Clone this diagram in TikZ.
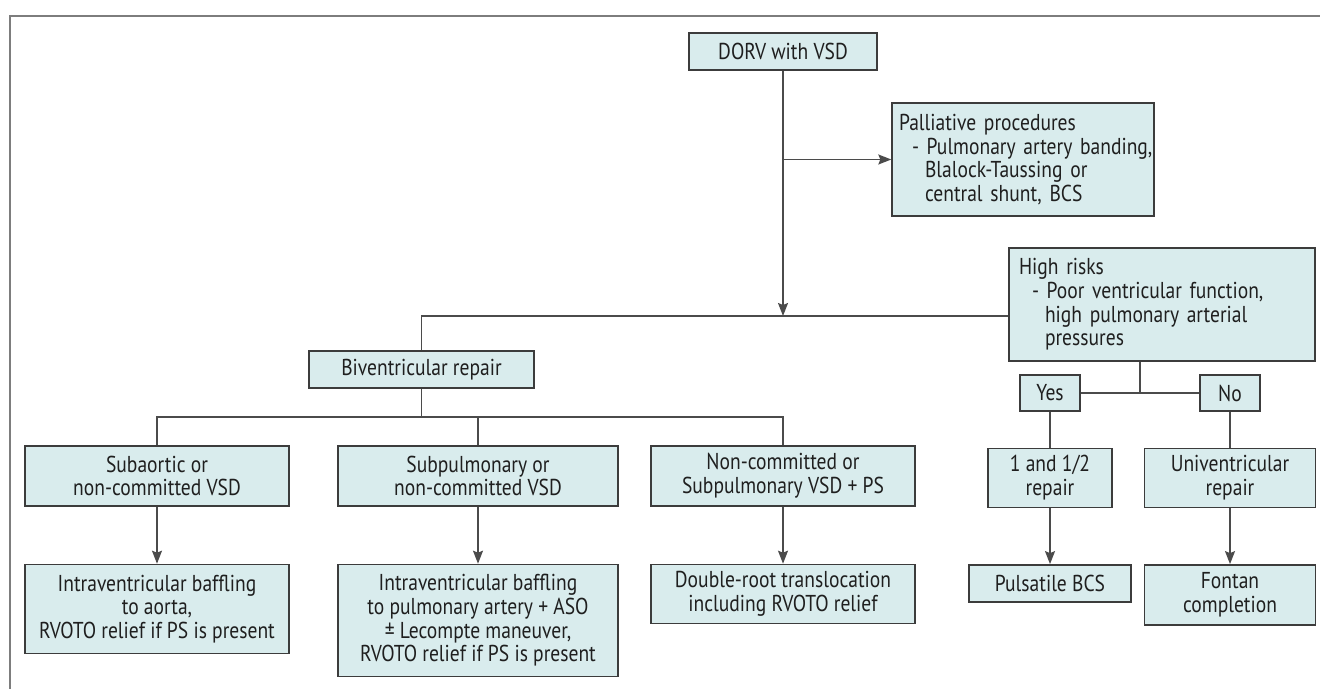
\documentclass[tikz,border=0pt]{standalone}
\usepackage{fontspec}
\setmainfont[FakeStretch=0.85]{PT Sans}
\usetikzlibrary{arrows.meta,positioning}

\definecolor{boxfill}{RGB}{217,236,237}
\definecolor{boxline}{RGB}{60,60,60}
\definecolor{wire}{RGB}{75,75,75}
\definecolor{framegray}{RGB}{125,125,125}
\newcommand{\boxfont}{\fontsize{11.5}{11.85}\selectfont}
\newcommand{\dashline}[1]{\mbox{\hspace*{6.5pt}- #1}}
\newcommand{\contline}[1]{\mbox{\hspace*{13pt}#1}}

\begin{document}
\begin{tikzpicture}[x=0.5pt,y=-0.5pt,>={Stealth[length=6.5pt,width=5pt,inset=1pt]},
    box/.style={draw=boxline,fill=boxfill,line width=0.7pt,align=center,inner sep=0pt,
      font=\boxfont,text=black!88},
    wires/.style={color=wire,line width=0.7pt}]
        \useasboundingbox (0,0) rectangle (1320,689);
        \draw[framegray,line width=0.7pt] (10,689) -- (10,16) -- (1320,16);

        % top of the tree
        \node[box,minimum width=94pt,minimum height=18.5pt] (dorv) at (783,51.5) {DORV with VSD};
        \node[box,minimum height=56.5pt,text width=124pt,inner xsep=3.5pt,align=left] (pall) at (1023,159.5)
          {Palliative procedures\\ \dashline{Pulmonary artery banding,}\\ \contline{Blalock-Taussing or}\\ \contline{central shunt, BCS}};
        \node[box,minimum height=56.5pt,text width=143pt,inner xsep=5pt,align=left] (high) at (1162,304.5)
          {High risks\\ \dashline{Poor ventricular function,}\\ \contline{high pulmonary arterial}\\ \contline{pressures}};
        \node[box,minimum width=112.5pt,minimum height=18.5pt] (biv) at (421.5,369.5) {Biventricular repair};

        % biventricular branch
        \node[box,minimum width=132pt,minimum height=30pt] (sa) at (157,476) {Subaortic or\\non-committed VSD};
        \node[box,minimum width=140pt,minimum height=30pt] (sp) at (478,476) {Subpulmonary or\\non-committed VSD};
        \node[box,minimum width=132pt,minimum height=30pt] (nc) at (783,476) {Non-committed or\\Subpulmonary VSD + PS};
        \node[box,minimum width=132pt,minimum height=44.5pt] (baf1) [below=28.5pt of sa]
          {Intraventricular baffling\\to aorta,\\RVOTO relief if PS is present};
        \node[box,minimum width=140pt,minimum height=56pt] (baf2) [below=28.5pt of sp]
          {Intraventricular baffling\\to pulmonary artery + ASO\\± Lecompte maneuver,\\RVOTO relief if PS is present};
        \node[box,minimum width=132pt,minimum height=29.5pt] (drt) [below=28.5pt of nc]
          {Double-root translocation\\including RVOTO relief};

        % high risk branch
        \node[box,minimum width=30pt,minimum height=18pt] (yes) at (1050,393) {Yes};
        \node[box,minimum width=30pt,minimum height=18pt] (no) at (1230,393) {No};
        \node[box,minimum width=62pt,minimum height=29.5pt] (half) [below=18pt of yes] {1 and 1/2\\repair};
        \node[box,minimum width=85.5pt,minimum height=29.5pt] (uni) [below=18pt of no] {Univentricular\\repair};
        \node[box,minimum width=81pt,minimum height=18.5pt] (puls) [below=28pt of half] {Pulsatile BCS};
        \node[box,minimum width=85.5pt,minimum height=30pt] (fontan) [below=28pt of uni] {Fontan\\completion};

        \coordinate (junc) at (783,316);
        \coordinate (bus) at (421.5,417);
        \coordinate (yn) at (1140,393);

        \path[wires,->] (dorv) edge (junc);
        \draw[wires,->] (dorv.south |- pall.west) -- (pall.west);
        \draw[wires] (biv.north) |- (junc) -- (junc -| high.west);
        \draw[wires] (biv.south) -- (bus);
        \draw[wires] (sa.north) |- (bus) -| (nc.north);
        \draw[wires] (sp.north) -- (sp.north |- bus);
        \path[wires,->] (sa) edge (baf1) (sp) edge (baf2) (nc) edge (drt)
          (half) edge (puls) (uni) edge (fontan);
        \path[wires] (yes) edge (no) (yes) edge (half) (no) edge (uni);
        \draw[wires] (high.south -| yn) -- (yn);
      \end{tikzpicture}
\end{document}
